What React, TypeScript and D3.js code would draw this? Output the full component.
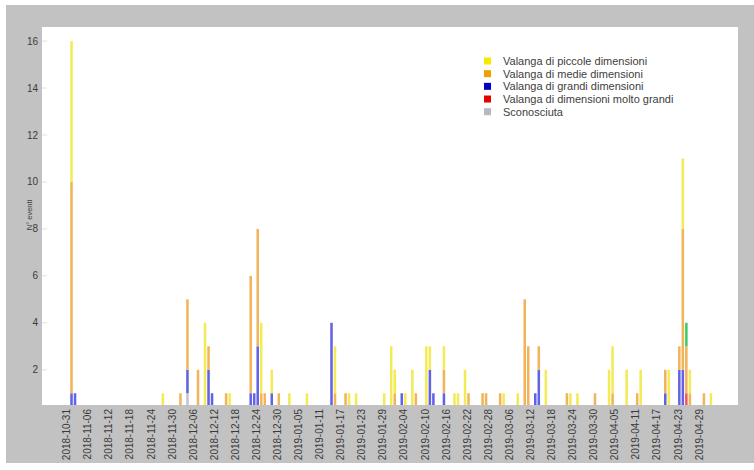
import React from "react";
import * as d3 from "d3";

// ---- data (events per day; series stacked) ----
const dates = [
  "2018-11-01","2018-11-02","2018-11-27","2018-12-02","2018-12-04","2018-12-07","2018-12-09","2018-12-10",
  "2018-12-11","2018-12-15","2018-12-16","2018-12-22","2018-12-23","2018-12-24","2018-12-25","2018-12-26",
  "2018-12-28","2018-12-30","2019-01-02","2019-01-07","2019-01-14","2019-01-15","2019-01-18","2019-01-19",
  "2019-01-21","2019-01-29","2019-01-31","2019-02-01","2019-02-03","2019-02-04","2019-02-06","2019-02-07",
  "2019-02-10","2019-02-11","2019-02-12","2019-02-15","2019-02-18","2019-02-19","2019-02-21","2019-02-22",
  "2019-02-26","2019-02-27","2019-03-03","2019-03-04","2019-03-08","2019-03-10","2019-03-11","2019-03-13",
  "2019-03-14","2019-03-16","2019-03-22","2019-03-23","2019-03-25","2019-03-30","2019-04-03","2019-04-04",
  "2019-04-08","2019-04-11","2019-04-12","2019-04-19","2019-04-20","2019-04-23","2019-04-24","2019-04-25",
  "2019-04-26","2019-04-30","2019-05-02",
];
const piccole = [
  6,0,1,0,0,0,4,0, 0,0,1,0,0,0,3,0, 1,0,1,1,0,2,0,1, 1,1,3,1,0,1,2,0,
  3,1,0,1,1,1,2,0, 0,0,0,1,1,0,0,0, 0,2,0,1,1,0,2,2, 2,0,2,0,2,0,3,0, 1,0,1,
];
const medie = [
  9,0,0,1,3,2,0,1, 0,1,0,5,0,5,1,1, 0,1,0,0,0,1,1,0, 0,0,0,1,0,0,0,1,
  0,0,0,1,0,0,0,1, 1,1,1,0,0,5,3,0, 1,0,1,0,0,1,0,1, 0,1,0,1,0,1,6,2, 1,1,0,
];
const grandi = [
  1,1,0,0,1,0,0,2, 1,0,0,1,1,3,0,0, 1,0,0,0,4,0,0,0, 0,0,0,0,1,0,0,0,
  0,2,1,1,0,0,0,0, 0,0,0,0,0,0,0,1, 2,0,0,0,0,0,0,0, 0,0,0,1,0,2,2,0, 0,0,0,
];
const moltoGrandi = [
  0,0,0,0,0,0,0,0, 0,0,0,0,0,0,0,0, 0,0,0,0,0,0,0,0, 0,0,0,0,0,0,0,0,
  0,0,0,0,0,0,0,0, 0,0,0,0,0,0,0,0, 0,0,0,0,0,0,0,0, 0,0,0,0,0,0,0,1, 0,0,0,
];
const sconosciuta = [
  0,0,0,0,1,0,0,0, 0,0,0,0,0,0,0,0, 0,0,0,0,0,0,0,0, 0,0,0,0,0,0,0,0,
  0,0,0,0,0,0,0,0, 0,0,0,0,0,0,0,0, 0,0,0,0,0,0,0,0, 0,0,0,0,0,0,0,0, 0,0,0,
];
const altro = [
  0,0,0,0,0,0,0,0, 0,0,0,0,0,0,0,0, 0,0,0,0,0,0,0,0, 0,0,0,0,0,0,0,0,
  0,0,0,0,0,0,0,0, 0,0,0,0,0,0,0,0, 0,0,0,0,0,0,0,0, 0,0,0,0,0,0,0,1, 0,0,0,
];

const legendLabels = [
  "Valanga di piccole dimensioni",
  "Valanga di medie dimensioni",
  "Valanga di grandi dimensioni",
  "Valanga di dimensioni molto grandi",
  "Sconosciuta",
];
const legendColors = ["#f5eb00", "#f0a000", "#0000c8", "#e80000", "#b8b8c0"];

const yTicks = [2, 4, 6, 8, 10, 12, 14, 16];
const tickStartDate = "2018-10-31";
const tickStepDays = 6;
const tickCount = 31;
const yLabel = "N° eventi";

// stack order bottom -> top
const stackKeys = ["sconosciuta", "moltoGrandi", "grandi", "medie", "piccole", "altro"];
const barColors: Record<string, string> = {
  sconosciuta: "#c4c4ca",
  moltoGrandi: "#f05858",
  grandi: "#6262e4",
  medie: "#f1b45a",
  piccole: "#f3eb55",
  altro: "#38cc68",
};

const W = 754;
const H = 470;
const plot = { left: 42, right: 738, top: 27, bottom: 405 };
const FONT = "'Liberation Sans', Arial, sans-serif";

export default function App() {
  const parse = d3.utcParse("%Y-%m-%d");
  const fmt = d3.utcFormat("%Y-%m-%d");
  const t0 = parse(tickStartDate) as Date;
  const dayIdx = (s: string) => d3.utcDay.count(t0, parse(s) as Date);

  const rows = dates.map((d, i) => ({
    day: dayIdx(d),
    piccole: piccole[i],
    medie: medie[i],
    grandi: grandi[i],
    moltoGrandi: moltoGrandi[i],
    sconosciuta: sconosciuta[i],
    altro: altro[i],
  }));

  const x = d3.scaleLinear().domain([-7.4, 190.7]).range([plot.left, plot.right]);
  const y = d3.scaleLinear().domain([0.5, 16.6]).range([plot.bottom, plot.top]);
  const dayW = x(1) - x(0);
  const barW = dayW * 0.72;

  const stacked = d3.stack<any>().keys(stackKeys)(rows);

  const ticks = d3.range(tickCount).map((i) => {
    const dt = d3.utcDay.offset(t0, i * tickStepDays);
    return { day: i * tickStepDays, label: fmt(dt) };
  });

  return (
    <div style={{ position: "fixed", left: 0, top: 0 }}>
      <svg width={W} height={H} style={{ display: "block" }} fontFamily={FONT}>
        <defs>
          <clipPath id="plotclip">
            <rect x={plot.left} y={plot.top} width={plot.right - plot.left} height={plot.bottom - plot.top} />
          </clipPath>
        </defs>
        <rect x={0} y={0} width={W} height={H} fill="#ffffff" />
        <rect x={6} y={5} width={W - 6} height={458} fill="#c2c2c2" />
        <rect
          x={plot.left}
          y={plot.top}
          width={plot.right - plot.left}
          height={plot.bottom - plot.top}
          fill="#ffffff"
        />

        {/* y ticks */}
        {yTicks.map((t) => (
          <g key={t}>
            <line x1={plot.left} x2={plot.left + 5} y1={y(t)} y2={y(t)} stroke="#e2e2e2" strokeWidth={1} />
            <text x={38} y={y(t)} dy="0.35em" textAnchor="end" fontSize={10} fill="#3a3a3a">
              {t}
            </text>
          </g>
        ))}
        <text
          transform={`translate(29,215) rotate(-90)`}
          textAnchor="middle"
          fontSize={7.5}
          fill="#3a3a3a"
          dominantBaseline="central"
        >
          {yLabel}
        </text>

        {/* bars */}
        <g clipPath="url(#plotclip)">
          {stacked.map((layer) => (
            <g key={layer.key} fill={barColors[layer.key]}>
              {layer.map((seg, i) =>
                seg[1] - seg[0] > 0 ? (
                  <rect
                    key={i}
                    x={x(rows[i].day) - barW / 2}
                    width={barW}
                    y={y(seg[1])}
                    height={y(seg[0]) - y(seg[1])}
                  />
                ) : null
              )}
            </g>
          ))}
        </g>

        {/* x tick labels */}
        {ticks.map((t) => (
          <text
            key={t.label}
            transform={`translate(${x(t.day) - 1.3},409) rotate(-90)`}
            textAnchor="end"
            dominantBaseline="central"
            fontSize={10}
            fill="#3a3a3a"
          >
            {t.label}
          </text>
        ))}

        {/* legend */}
        {legendLabels.map((l, i) => (
          <g key={l} transform={`translate(484,${61 + i * 12.67})`}>
            <rect x={0} y={-3.5} width={7} height={7} fill={legendColors[i]} />
            <text x={19} y={0} dy="0.35em" fontSize={11} fill="#404040">
              {l}
            </text>
          </g>
        ))}
      </svg>
    </div>
  );
}
